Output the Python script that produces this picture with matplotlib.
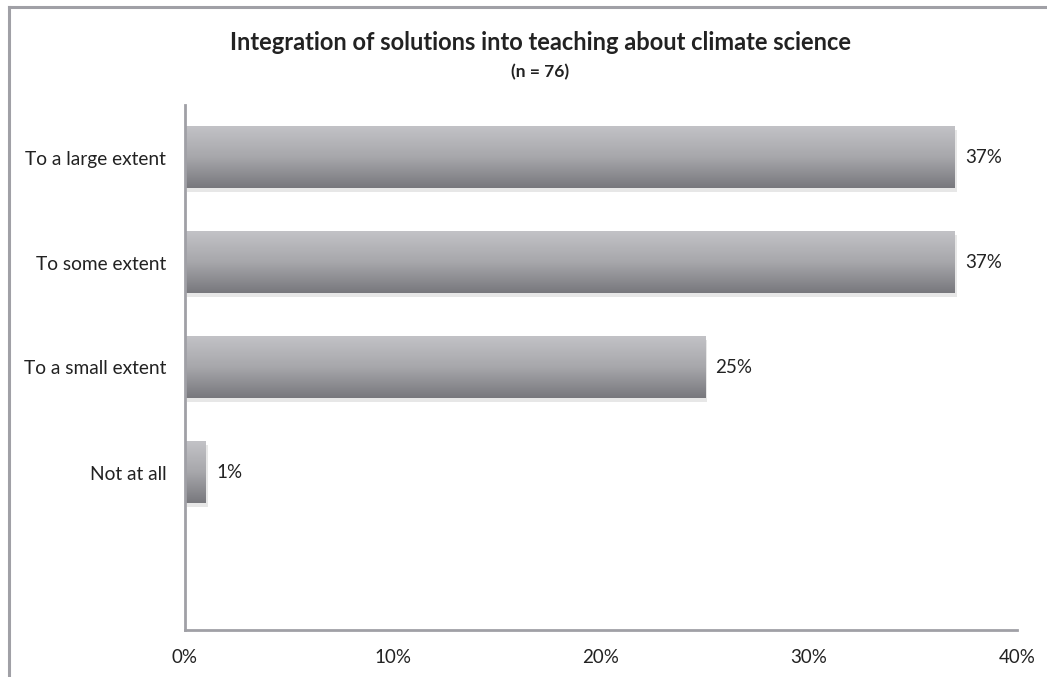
import matplotlib.pyplot as plt
import numpy as np
from matplotlib.lines import Line2D

# data
categories = ['To a large extent', 'To some extent', 'To a small extent', 'Not at all']
values = [37, 37, 25, 1]
labels = ['37%', '37%', '25%', '1%']
xticks = [0, 10, 20, 30, 40]

plt.rcParams['font.family'] = ['Lato', 'DejaVu Sans']

W, H = 1047, 677
fig = plt.figure(figsize=(W / 100, H / 100), dpi=100)
ax = fig.add_axes([185 / W, 1 - 630 / H, (1017 - 185) / W, (630 - 105) / H])

# frame around the chart area (only top and left visible)
gray = '#a0a0a6'
fig.add_artist(Line2D([9 / W, 1], [1 - 7 / H, 1 - 7 / H], color=gray, lw=2.2, transform=fig.transFigure))
fig.add_artist(Line2D([9 / W, 9 / W], [0, 1 - 7 / H], color=gray, lw=2.2, transform=fig.transFigure))

bh = 0.59
grad = np.linspace(0, 1, 100).reshape(-1, 1)
cmap = plt.matplotlib.colors.LinearSegmentedColormap.from_list(
    'bar', ['#c2c2c6', '#a7a7ab', '#78787d'])

for i, (v, lab) in enumerate(zip(values, labels)):
    # soft shadow
    ax.barh(i + 0.035, v, height=bh, left=0.1, color='#d8d8d8', alpha=0.6, zorder=1)
    ax.imshow(grad, cmap=cmap, aspect='auto', origin='upper',
              extent=(0, v, i + bh / 2, i - bh / 2), zorder=2)
    ax.text(v + 0.5, i, lab, va='center', ha='left', fontsize=13.5, color='#222222')

ax.set_xlim(0, 40)
ax.set_ylim(4.5, -0.5)
ax.set_yticks(range(len(categories)))
ax.set_yticklabels(categories, fontsize=13.8, color='#222222')
ax.set_xticks(xticks)
ax.set_xticklabels([f'{t}%' for t in xticks], fontsize=13.5, color='#222222')
ax.tick_params(length=0)
ax.tick_params(axis='y', pad=13.5)
ax.tick_params(axis='x', pad=14)

for s in ['top', 'right']:
    ax.spines[s].set_visible(False)
for s in ['left', 'bottom']:
    ax.spines[s].set_color(gray)
    ax.spines[s].set_linewidth(2)

fig.text(540 / W, 1 - 43 / H, 'Integration of solutions into teaching about climate science',
         ha='center', va='center', fontsize=17, fontweight='bold', color='#222222')
fig.text(540 / W, 1 - 72 / H, '(n = 76)', ha='center', va='center',
         fontsize=12.5, fontweight='bold', color='#222222')

fig.savefig('out.png', dpi=100)
